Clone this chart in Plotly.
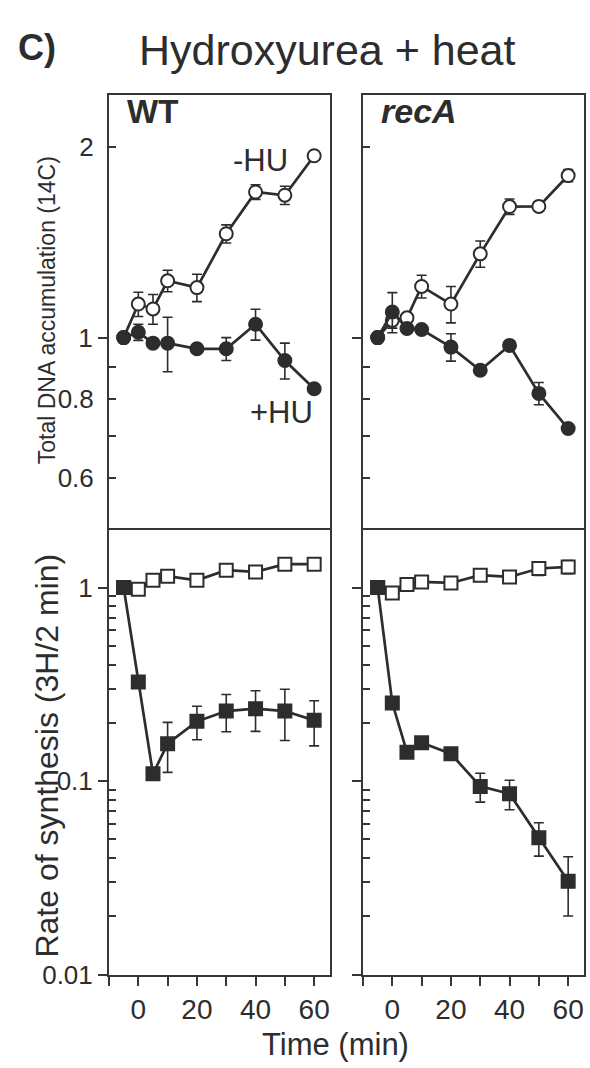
import math
import plotly.graph_objects as go

W, H = 590, 1068

# ---------------- data ----------------
time_min = [-5, 0, 5, 10, 20, 30, 40, 50, 60]
x_tick_vals = [-10, 0, 10, 20, 30, 40, 50, 60]
x_tick_text = ["", "0", "", "20", "", "40", "", "60"]

# Total DNA accumulation (14C), relative
wt_total_minus_hu = [1.0, 1.13, 1.11, 1.23, 1.20, 1.46, 1.70, 1.68, 1.94]
wt_total_minus_hu_err = [0, 0.05, 0.06, 0.048, 0.06, 0.048, 0.045, 0.056, 0]
wt_total_plus_hu = [1.0, 1.02, 0.98, 0.98, 0.96, 0.96, 1.05, 0.92, 0.83]
wt_total_plus_hu_err = [0, 0.03, 0, 0.097, 0, 0.04, 0.059, 0.06, 0]

reca_total_minus_hu = [1.0, 1.065, 1.075, 1.205, 1.13, 1.357, 1.612, 1.613, 1.805]
reca_total_minus_hu_err = [0, 0.03, 0, 0.05, 0.075, 0.065, 0.045, 0, 0.04]
reca_total_plus_hu = [1.0, 1.098, 1.034, 1.03, 0.966, 0.888, 0.972, 0.816, 0.718]
reca_total_plus_hu_err = [0, 0.08, 0, 0, 0.048, 0, 0, 0.033, 0]

# Rate of synthesis (3H / 2 min), relative
wt_rate_minus_hu = [1.0, 0.98, 1.09, 1.144, 1.09, 1.229, 1.204, 1.32, 1.32]
wt_rate_minus_hu_err = [0, 0, 0, 0, 0, 0, 0, 0, 0]
wt_rate_plus_hu = [1.0, 0.325, 0.109, 0.156, 0.2035, 0.23, 0.2367, 0.23, 0.206]
wt_rate_plus_hu_err = [0, 0, 0, 0.045, 0.04, 0.05, 0.056, 0.068, 0.054]

reca_rate_minus_hu = [1.0, 0.938, 1.036, 1.069, 1.056, 1.158, 1.134, 1.254, 1.278]
reca_rate_minus_hu_err = [0, 0, 0, 0, 0, 0, 0, 0.1, 0.1]
reca_rate_plus_hu = [1.0, 0.253, 0.141, 0.158, 0.1385, 0.0939, 0.0861, 0.051, 0.0304]
reca_rate_plus_hu_err = [0, 0, 0, 0, 0, 0.016, 0.015, 0.01, 0.0103]

top_major_ticks = [1]
top_labels_vals = [0.6, 0.8, 2]
top_labels_text = ["0.6", "0.8", "2"]
top_minor_ticks = [0.6, 0.7, 0.8, 0.9, 2]
bot_major_ticks = [0.01, 0.1, 1]
bot_major_text = ["0.01", "0.1", "1"]
bot_minor_ticks = [0.02, 0.03, 0.04, 0.05, 0.06, 0.07, 0.08, 0.09,
                   0.2, 0.3, 0.4, 0.5, 0.6, 0.7, 0.8, 0.9]

# ---------------- style ----------------
INK = "#2d2d2d"
AX = "#363636"
FONT = "Liberation Sans, Arial, sans-serif"
XTICKFONT = dict(family=FONT, size=28, color=INK)
YTICKFONT = dict(family=FONT, size=26, color=INK)
KY = 1.015  # vertical placement correction


def px(xp):
    return xp / W


def py(yp):
    return 1 - yp * KY / H


XL = [px(109), px(330)]
XR = [px(363), px(584)]
YT = [py(528), py(95)]
YB = [py(974), py(528)]
XRANGE = [-10, 65.4]
TOP_RANGE = [math.log10(0.499), math.log10(2.42)]
BOT_RANGE = [-2, math.log10(2.02)]

fig = go.Figure()


def add_series(xa, ya, vals, errs, symbol, filled):
    fig.add_trace(go.Scatter(
        x=time_min, y=vals, xaxis=xa, yaxis=ya,
        mode="lines+markers",
        line=dict(color=INK, width=2.7),
        marker=dict(symbol=symbol, size=13,
                    color=INK if filled else "white",
                    line=dict(color=INK, width=2)),
        error_y=dict(type="data", array=errs, visible=True,
                     color=INK, thickness=1.6, width=5),
        showlegend=False, hoverinfo="skip", cliponaxis=False,
    ))


add_series("x", "y", wt_total_minus_hu, wt_total_minus_hu_err, "circle", False)
add_series("x", "y", wt_total_plus_hu, wt_total_plus_hu_err, "circle", True)
add_series("x2", "y2", reca_total_minus_hu, reca_total_minus_hu_err, "circle", False)
add_series("x2", "y2", reca_total_plus_hu, reca_total_plus_hu_err, "circle", True)
add_series("x3", "y3", wt_rate_minus_hu, wt_rate_minus_hu_err, "square", False)
add_series("x3", "y3", wt_rate_plus_hu, wt_rate_plus_hu_err, "square", True)
add_series("x4", "y4", reca_rate_minus_hu, reca_rate_minus_hu_err, "square", False)
add_series("x4", "y4", reca_rate_plus_hu, reca_rate_plus_hu_err, "square", True)

# invisible trace so the label-only overlay axis is drawn
fig.add_trace(go.Scatter(x=time_min, y=wt_total_plus_hu, xaxis="x", yaxis="y5",
                         mode="markers", marker=dict(opacity=0),
                         showlegend=False, hoverinfo="skip"))


def xaxis(domain, anchor, bottom):
    d = dict(domain=domain, anchor=anchor, range=XRANGE, showline=True,
             linecolor=AX, linewidth=2, showgrid=False,
             zeroline=False, fixedrange=True)
    if bottom:
        d.update(mirror=False, tickmode="array", tickvals=x_tick_vals,
                 ticktext=x_tick_text, ticks="outside", ticklen=9,
                 tickwidth=2, tickcolor=AX, tickfont=XTICKFONT)
    else:
        d.update(mirror=True, showticklabels=False, ticks="")
    return d


def yaxis(domain, anchor, top, labels):
    d = dict(domain=domain, anchor=anchor, type="log", showline=True,
             linecolor=AX, linewidth=2, mirror=True, showgrid=False,
             zeroline=False, fixedrange=True, ticks="outside", ticklen=9,
             tickwidth=2, tickcolor=AX, tickfont=YTICKFONT, tickmode="array")
    if top:
        d.update(range=TOP_RANGE, tickvals=top_major_ticks,
                 ticktext=["1"] if labels else [""],
                 minor=dict(tickmode="array", tickvals=top_minor_ticks,
                            ticks="inside", ticklen=7, tickwidth=2,
                            tickcolor=AX, showgrid=False))
    else:
        d.update(range=BOT_RANGE, tickvals=bot_major_ticks,
                 ticktext=bot_major_text if labels else ["", "", ""],
                 minor=dict(tickmode="array", tickvals=bot_minor_ticks,
                            ticks="inside", ticklen=7, tickwidth=2,
                            tickcolor=AX, showgrid=False))
    if not labels:
        d["showticklabels"] = False
    return d


fig.update_layout(
    width=W, height=H,
    margin=dict(l=0, r=0, t=0, b=0),
    paper_bgcolor="white", plot_bgcolor="white",
    font=dict(family=FONT, color=INK),
    xaxis=xaxis(XL, "y", False),
    xaxis2=xaxis(XR, "y2", False),
    xaxis3=xaxis(XL, "y3", True),
    xaxis4=xaxis(XR, "y4", True),
    yaxis=yaxis(YT, "x", True, True),
    yaxis2=yaxis(YT, "x2", True, False),
    yaxis3=yaxis(YB, "x3", False, True),
    yaxis4=yaxis(YB, "x4", False, False),
    yaxis5=dict(overlaying="y", anchor="x", side="left", type="log",
                range=TOP_RANGE, tickmode="array", tickvals=top_labels_vals,
                ticktext=top_labels_text, ticks="outside", ticklen=9,
                tickwidth=2, tickcolor="rgba(0,0,0,0)", tickfont=YTICKFONT,
                showline=False, showgrid=False, zeroline=False,
                fixedrange=True),
)

ann = [
    dict(text="<b>C)</b>", x=px(16), y=py(47), xanchor="left", yanchor="middle",
         font=dict(size=36)),
    dict(text="Hydroxyurea + heat", x=px(327), y=py(50), xanchor="center",
         yanchor="middle", font=dict(size=43)),
    dict(text="<b>WT</b>", x=px(125), y=py(111), xanchor="left",
         yanchor="middle", font=dict(size=33)),
    dict(text="<b><i>recA</i></b>", x=px(379), y=py(111), xanchor="left",
         yanchor="middle", font=dict(size=34)),
    dict(text="-HU", x=px(260), y=py(160), xanchor="center",
         yanchor="middle", font=dict(size=31)),
    dict(text="+HU", x=px(281), y=py(412), xanchor="center",
         yanchor="middle", font=dict(size=31)),
    dict(text="Total DNA accumulation (14C)", x=px(47), y=py(310),
         xanchor="center", yanchor="middle", textangle=-90,
         font=dict(size=23)),
    dict(text="Rate of synthesis (3H/2 min)", x=px(47), y=py(755),
         xanchor="center", yanchor="middle", textangle=-90,
         font=dict(size=32)),
    dict(text="Time (min)", x=px(335), y=py(1044), xanchor="center",
         yanchor="middle", font=dict(size=31)),
]
for a in ann:
    a.update(xref="paper", yref="paper", showarrow=False)
    a["font"] = dict(family=FONT, color=INK, **a["font"])
fig.update_layout(annotations=ann)

fig.write_html("out.html", config={"displayModeBar": False},
               post_script="document.body.style.margin='0';")
